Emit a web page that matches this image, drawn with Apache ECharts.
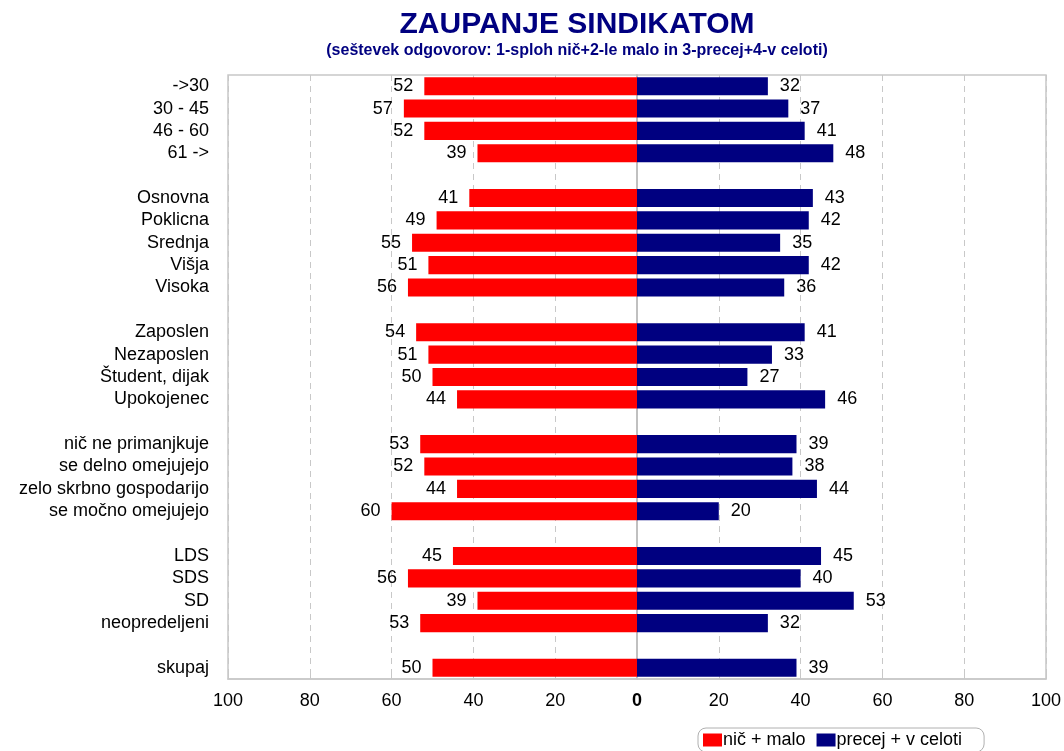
<!DOCTYPE html>
<html><head><meta charset="utf-8">
<script src="https://cdn.jsdelivr.net/npm/echarts@6/dist/echarts.min.js"></script>
<style>html,body{margin:0;padding:0;background:#fff}#c{width:1064px;height:751px}</style>
</head><body><div id="c"></div>
<script>
const categories = ['->30','30 - 45','46 - 60','61 ->',' ',
  'Osnovna','Poklicna','Srednja','Višja','Visoka','  ',
  'Zaposlen','Nezaposlen','Študent, dijak','Upokojenec','   ',
  'nič ne primanjkuje','se delno omejujejo','zelo skrbno gospodarijo','se močno omejujejo','    ',
  'LDS','SDS','SD','neopredeljeni','     ',
  'skupaj'];
const nicMalo = [52,57,52,39,null, 41,49,55,51,56,null, 54,51,50,44,null, 53,52,44,60,null, 45,56,39,53,null, 50];
const precejCeloti = [32,37,41,48,null, 43,42,35,42,36,null, 41,33,27,46,null, 39,38,44,20,null, 45,40,53,32,null, 39];
const tickValues = [-100,-80,-60,-40,-20,0,20,40,60,80,100];

const FONT = 'Arial, "Liberation Sans", sans-serif';
const chart = echarts.init(document.getElementById('c'));
chart.setOption({
  backgroundColor: '#fff',
  animation: false,
  title: {
    text: 'ZAUPANJE SINDIKATOM',
    subtext: '(seštevek odgovorov: 1-sploh nič+2-le malo in 3-precej+4-v celoti)',
    left: 572, top: 5, textAlign: 'center', itemGap: 3,
    textStyle: {fontFamily: FONT, fontSize: 30, fontWeight: 'bold', color: '#000080'},
    subtextStyle: {fontFamily: FONT, fontSize: 16, fontWeight: 'bold', color: '#000080'}
  },
  legend: {
    left: 698, top: 728,
    data: ['nič + malo','precej + v celoti'],
    itemWidth: 19, itemHeight: 13, itemGap: 11,
    padding: [3, 22, 3, 5],
    borderColor: '#b0b0b0', borderWidth: 1, borderRadius: 8,
    textStyle: {fontFamily: FONT, fontSize: 18, color: '#000', padding: [0,0,0,-4]},
    icon: 'rect'
  },
  grid: {left: 228, right: 17, top: 75, bottom: 72, show: true, borderColor: '#c8c8c8', borderWidth: 1.5},
  xAxis: {
    type: 'value', min: -100, max: 100, interval: 20,
    axisLine: {show: true, lineStyle: {color: '#c8c8c8', width: 1.5}},
    axisTick: {show: true, inside: true, length: 5, lineStyle: {color: '#c8c8c8'}},
    axisLabel: {
      margin: 13, fontFamily: FONT, fontSize: 18, color: '#000',
      formatter: v => v === 0 ? '{b|0}' : String(Math.abs(v)),
      rich: {b: {fontFamily: FONT, fontSize: 18, fontWeight: 'bold', color: '#000'}}
    },
    splitLine: {show: true, lineStyle: {color: '#c8c8c8', type: [6, 5], width: 1}}
  },
  yAxis: {
    type: 'category', data: categories, inverse: true,
    axisLine: {show: true, onZero: true, lineStyle: {color: '#c0c0c0', width: 2}},
    axisTick: {show: false},
    axisLabel: {interval: 0, margin: 19, fontFamily: FONT, fontSize: 18, color: '#000'}
  },
  series: [
    {
      name: 'nič + malo', type: 'bar',
      data: nicMalo.map(v => v == null ? null : -v),
      itemStyle: {color: '#ff0000'},
      barCategoryGap: '19%', barGap: '-100%',
      label: {show: true, position: 'left', distance: 11, fontFamily: FONT, fontSize: 18, color: '#000',
        formatter: p => Math.abs(p.value)}
    },
    {
      name: 'precej + v celoti', type: 'bar',
      data: precejCeloti,
      itemStyle: {color: '#000080'},
      barCategoryGap: '19%', barGap: '-100%',
      label: {show: true, position: 'right', distance: 12, fontFamily: FONT, fontSize: 18, color: '#000'}
    }
  ]
});
</script></body></html>
